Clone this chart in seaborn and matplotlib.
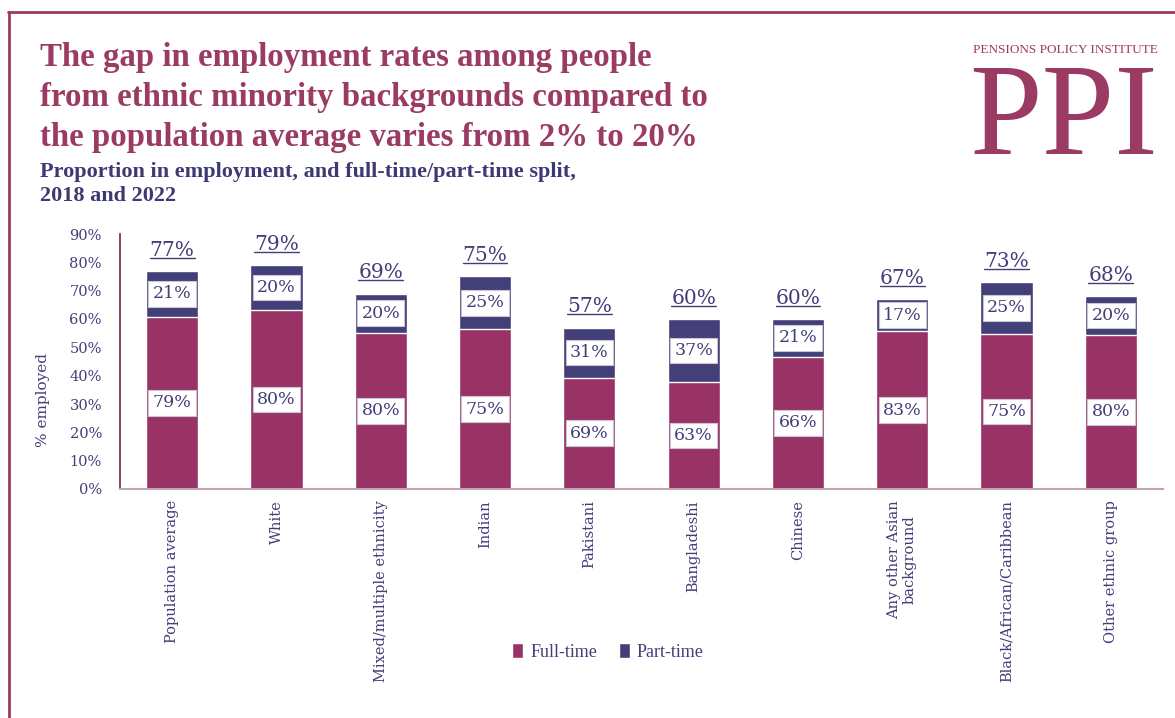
import matplotlib
matplotlib.use("Agg")
import matplotlib.pyplot as plt
from matplotlib.lines import Line2D
from matplotlib.patches import Patch
import seaborn as sns
import pandas as pd

# Employment by ethnic group
categories = [
    "Population average", "White", "Mixed/multiple ethnicity", "Indian",
    "Pakistani", "Bangladeshi", "Chinese", "Any other Asian\nbackground",
    "Black/African/Caribbean", "Other ethnic group",
]
employed_total = [77, 79, 69, 75, 57, 60, 60, 67, 73, 68]          # % in employment
full_time_rate = [60.8, 63.2, 55.2, 56.3, 39.3, 37.8, 46.6, 55.6, 54.8, 54.4]  # % of population in FT work
full_time_share = [79, 80, 80, 75, 69, 63, 66, 83, 75, 80]          # FT as % of employed
part_time_share = [21, 20, 20, 25, 31, 37, 21, 17, 25, 20]          # PT as % of employed
y_ticks = [0, 10, 20, 30, 40, 50, 60, 70, 80, 90]

df = pd.DataFrame({
    "group": categories,
    "total": employed_total,
    "full_time": full_time_rate,
})

MAROON = "#993366"
NAVY = "#433F78"
TEXT = "#423E78"
TITLE = "#9B3A63"
SERIF = ["DejaVu Serif"]

sns.set_theme(style="white")
plt.rcParams["font.family"] = SERIF

W, H = 1175, 718
fig = plt.figure(figsize=(W / 100, H / 100), dpi=100)
ax = fig.add_axes([120 / W, 1 - 489 / H, 1043 / W, 255 / H])

# Part-time sits on top of full-time: draw the totals, then overlay full-time
sns.barplot(data=df, x="group", y="total", color=NAVY, width=0.5,
            saturation=1, ax=ax, order=categories)
sns.barplot(data=df, x="group", y="full_time", color=MAROON, width=0.5,
            saturation=1, ax=ax, order=categories)

ax.set_ylim(0, 90)
ax.set_xlim(-0.5, len(categories) - 0.5)
ax.set_yticks(y_ticks)
ax.set_yticklabels([f"{v}%" for v in y_ticks])
ax.tick_params(axis="y", length=0, pad=13, labelsize=10.5, labelcolor=TEXT)
ax.tick_params(axis="x", length=0, pad=8, labelsize=10.5, labelcolor=TEXT)
ax.set_xticks(range(len(categories)))
ax.set_xticklabels(categories, rotation=90, va="top", ha="center",
                   multialignment="center", linespacing=1.15)
ax.set_xlabel("")
ax.set_ylabel("% employed", fontsize=11, color=TEXT)
ax.yaxis.set_label_coords(-0.067, 0.35)

for side in ("top", "right"):
    ax.spines[side].set_visible(False)
ax.spines["left"].set_color("#6E2349")
ax.spines["left"].set_linewidth(1.2)
ax.spines["bottom"].set_color("#BFA5B2")
ax.spines["bottom"].set_linewidth(1.5)
ax.grid(False)

box = dict(boxstyle="square,pad=0.25", facecolor="white",
           edgecolor="#C9C7D6", linewidth=0.8)

total_texts = []
for i, (tot, ft, fs, ps) in enumerate(zip(employed_total, full_time_rate,
                                          full_time_share, part_time_share)):
    ax.text(i, ft / 2, f"{fs}%", ha="center", va="center", fontsize=12.5,
            color=TEXT, bbox=box, zorder=5)
    ax.text(i, (ft + tot) / 2, f"{ps}%", ha="center", va="center",
            fontsize=12.5, color=TEXT, bbox=box, zorder=5)
    t = ax.annotate(f"{tot}%", xy=(i, tot), xytext=(0, 11),
                    textcoords="offset points", ha="center", va="baseline",
                    fontsize=14.5, color=TEXT)
    total_texts.append((i, tot, t))

# Underline the employment totals
fig.canvas.draw()
renderer = fig.canvas.get_renderer()
for i, tot, t in total_texts:
    bb = t.get_window_extent(renderer)
    base_y = ax.transData.transform((i, tot))[1] + 11 * 100 / 72 - 2
    fig.add_artist(Line2D([bb.x0 / W, bb.x1 / W], [base_y / H, base_y / H],
                          transform=fig.transFigure, color=TEXT, lw=1.0))

# Headline and subtitle
title_lines = [
    "The gap in employment rates among people",
    "from ethnic minority backgrounds compared to",
    "the population average varies from 2% to 20%",
]
for k, line in enumerate(title_lines):
    fig.text(40 / W, 1 - (66 + 40 * k) / H, line, fontsize=23.7,
             fontweight="bold", color=TITLE, family=["Liberation Serif"],
             va="baseline", ha="left")
for k, line in enumerate(["Proportion in employment, and full-time/part-time split,",
                          "2018 and 2022"]):
    fig.text(40 / W, 1 - (177 + 24 * k) / H, line, fontsize=16,
             fontweight="bold", color="#3D3A73", family=["Liberation Serif"],
             va="baseline", ha="left")

# Institute mark
fig.text(1065 / W, 1 - 53 / H, "PENSIONS POLICY INSTITUTE", fontsize=9.5,
         color=TITLE, family=["Liberation Serif"], ha="center", va="baseline")
fig.text(1064 / W, 1 - 154 / H, "PPI", fontsize=94, color=TITLE,
         family=["Liberation Serif"], ha="center", va="baseline")

# Page frame
fig.add_artist(Line2D([8 / W, 1], [1 - 12 / H, 1 - 12 / H],
                      transform=fig.transFigure, color=TITLE, lw=2))
fig.add_artist(Line2D([9 / W, 9 / W], [0, 1 - 12 / H],
                      transform=fig.transFigure, color=TITLE, lw=2))

handles = [Patch(facecolor=MAROON, label="Full-time"),
           Patch(facecolor=NAVY, label="Part-time")]
fig.legend(handles=handles, loc="center", ncol=2, frameon=False,
           bbox_to_anchor=(608 / W, 1 - 652 / H),
           handlelength=0.6, handleheight=0.9, handletextpad=0.4,
           columnspacing=1.2, labelcolor=TEXT,
           prop={"family": ["Liberation Serif"], "size": 13})

fig.savefig("out.png", dpi=100)
